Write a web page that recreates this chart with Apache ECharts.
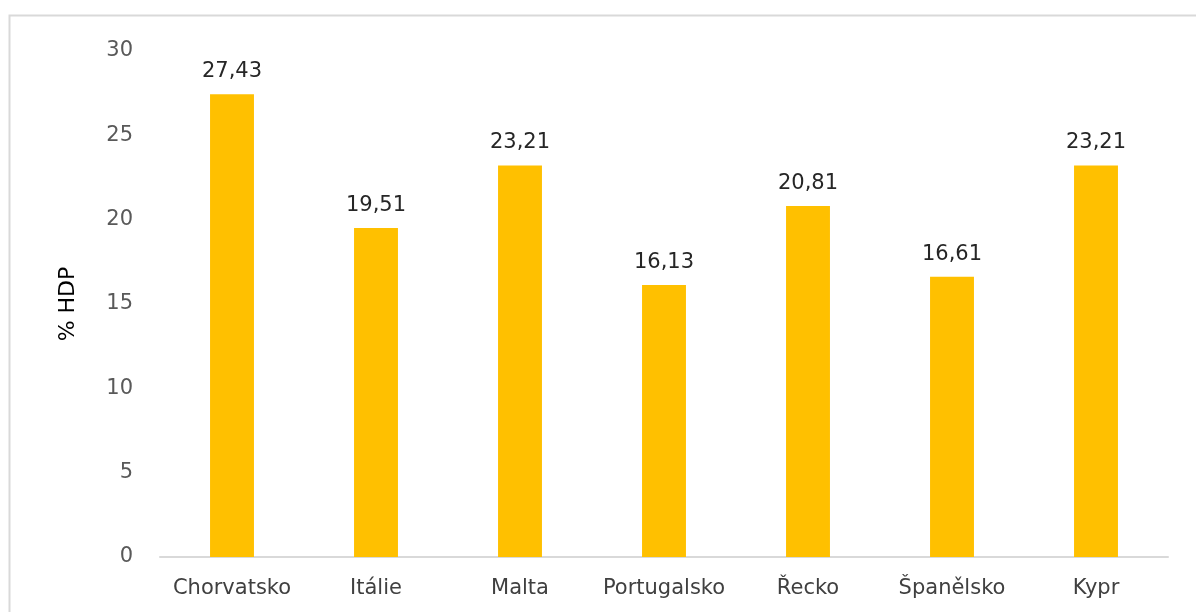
<!DOCTYPE html>
<html><head><meta charset="utf-8">
<script src="https://cdn.jsdelivr.net/npm/echarts@6/dist/echarts.min.js"></script>
<style>html,body{margin:0;padding:0;background:#fff}#c{width:1196px;height:612px}</style>
</head><body><div id="c"></div>
<script>
const categories = ['Chorvatsko','Itálie','Malta','Portugalsko','Řecko','Španělsko','Kypr'];
const values = [27.43, 19.51, 23.21, 16.13, 20.81, 16.61, 23.21];
const yTicks = {min: 0, max: 30, interval: 5};
const yName = '% HDP';

const FONT = 'DejaVu Sans';
const chart = echarts.init(document.getElementById('c'), null, {renderer: 'canvas'});
chart.setOption({
  animation: false,
  backgroundColor: '#fff',
  textStyle: {fontFamily: FONT},
  graphic: [{type: 'rect', shape: {x: 9.5, y: 15.5, width: 1300, height: 700}, style: {fill: 'none', stroke: '#d9d9d9', lineWidth: 2}, silent: true}],
  grid: {left: 160, right: 28, top: 51, bottom: 55},
  xAxis: {
    type: 'category', data: categories,
    axisLine: {lineStyle: {color: '#d9d9d9', width: 2}},
    axisTick: {show: false},
    axisLabel: {color: '#404040', fontSize: 21, margin: 21, fontFamily: FONT, interval: 0, hideOverlap: false}
  },
  yAxis: {
    type: 'value', min: yTicks.min, max: yTicks.max, interval: yTicks.interval,
    name: yName, nameLocation: 'middle', nameGap: 81, nameRotate: 90,
    nameTextStyle: {color: '#000', fontSize: 22, fontFamily: FONT},
    axisLine: {show: false}, axisTick: {show: false}, splitLine: {show: false},
    axisLabel: {color: '#595959', fontSize: 21, margin: 27, fontFamily: FONT}
  },
  series: [{
    type: 'bar', data: values, barWidth: '30.5%',
    itemStyle: {color: '#FFC000'},
    label: {show: true, position: 'top', distance: 12, color: '#262626', fontSize: 21, fontFamily: FONT,
      formatter: p => p.value.toFixed(2).replace('.', ',')}
  }]
});
</script></body></html>
